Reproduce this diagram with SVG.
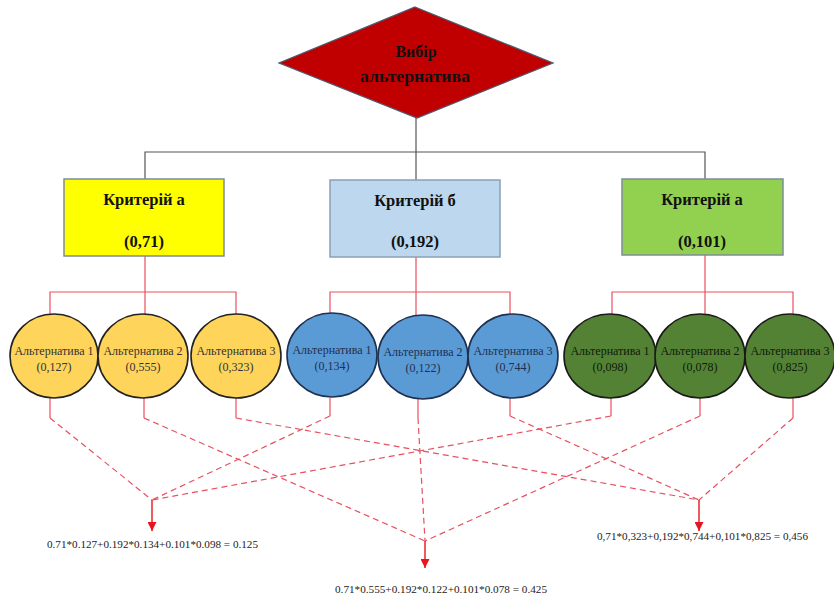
<svg xmlns="http://www.w3.org/2000/svg" width="834" height="595" viewBox="0 0 834 595">
<defs>
<marker id="arr" viewBox="0 0 10 10" refX="10" refY="5" markerWidth="9" markerHeight="9" markerUnits="userSpaceOnUse" orient="auto">
<path d="M0,0 L10,5 L0,10 z" fill="#e8141e"/>
</marker>
</defs>
<style>
.blk{fill:none;stroke:#555;stroke-width:1.2}
.red{fill:none;stroke:#e8505f;stroke-width:1.2}
.dash{fill:none;stroke:#e8505f;stroke-width:1.2;stroke-dasharray:6 4}
.arrow{fill:none;stroke:#e8141e;stroke-width:1.4}
.bt{font-family:"Liberation Serif",serif;font-weight:bold;font-size:16.5px;fill:#111;text-anchor:middle}
.dt{font-family:"Liberation Serif",serif;font-weight:bold;font-size:16px;fill:#111;text-anchor:middle}
.ct{font-family:"Liberation Serif",serif;font-size:12px;text-anchor:middle}
.ft{font-family:"Liberation Serif",serif;font-size:11px;fill:#222}
.yc{fill:#ffd45a;stroke:#222;stroke-width:1.6}
.bc{fill:#5b9bd5;stroke:#1f3050;stroke-width:1.6}
.gc{fill:#548235;stroke:#1a1a1a;stroke-width:1.6}
</style>
<rect width="834" height="595" fill="#fff"/>
<g id="connectors">
<polyline class="blk" points="416,118 416,152"/>
<polyline class="blk" points="145,179 145,152 705,152 705,179"/>
<polyline class="blk" points="416,152 416,180"/>
<polyline class="red" points="145,256 145,292"/>
<polyline class="red" points="50,315 50,292 236,292 236,315"/>
<polyline class="red" points="145,292 145,315"/>
<polyline class="red" points="416,257 416,292"/>
<polyline class="red" points="330,315 330,292 510,292 510,315"/>
<polyline class="red" points="416,292 416,315"/>
<polyline class="red" points="705,255 705,292"/>
<polyline class="red" points="612,315 612,292 793,292 793,315"/>
<polyline class="red" points="705,292 705,315"/>
<polyline class="red" points="50,398 50,418"/>
<polyline class="red" points="144,398 144,418"/>
<polyline class="red" points="236,398 236,418"/>
<polyline class="red" points="330,398 330,416"/>
<polyline class="red" points="418,399 418,418"/>
<polyline class="red" points="510,398 510,416"/>
<polyline class="red" points="611,398 611,416"/>
<polyline class="red" points="700,398 700,416"/>
<polyline class="red" points="793,398 793,418"/>
<line class="dash" x1="50" y1="418" x2="152" y2="500"/>
<line class="dash" x1="330" y1="416" x2="152" y2="500"/>
<line class="dash" x1="611" y1="416" x2="152" y2="500"/>
<line class="dash" x1="144" y1="418" x2="425" y2="541"/>
<line class="dash" x1="418" y1="418" x2="425" y2="541"/>
<line class="dash" x1="700" y1="416" x2="425" y2="541"/>
<line class="dash" x1="236" y1="418" x2="699" y2="500"/>
<line class="dash" x1="510" y1="416" x2="699" y2="500"/>
<line class="dash" x1="793" y1="418" x2="699" y2="500"/>
<line class="arrow" x1="152" y1="500" x2="152" y2="531" marker-end="url(#arr)"/>
<line class="arrow" x1="425" y1="541" x2="425" y2="568" marker-end="url(#arr)"/>
<line class="arrow" x1="699" y1="500" x2="699" y2="531" marker-end="url(#arr)"/>
</g>
<g id="goal">
<polygon points="415,7 553,63 417,118 279,63" fill="#c00000" stroke="#4a5a70" stroke-width="1.2"/>
<text class="dt" x="416" y="57">Вибір</text>
<text class="dt" x="415" y="82" textLength="110" lengthAdjust="spacingAndGlyphs">альтернатива</text>
</g>
<g id="crit-a1">
<rect x="64" y="179" width="160" height="77" fill="#ffff00" stroke="#7f8c9a" stroke-width="1.5"/>
<text class="bt" x="144" y="205">Критерій а</text>
<text class="bt" x="144" y="247">(0,71)</text>
</g>
<g id="crit-b">
<rect x="330" y="180" width="170" height="77" fill="#bdd7ee" stroke="#8aa0b8" stroke-width="1.5"/>
<text class="bt" x="415" y="206">Критерій б</text>
<text class="bt" x="415" y="247">(0,192)</text>
</g>
<g id="crit-a2">
<rect x="622" y="179" width="161" height="76" fill="#92d050" stroke="#7f8c9a" stroke-width="1.5"/>
<text class="bt" x="702" y="205">Критерій а</text>
<text class="bt" x="702" y="247">(0,101)</text>
</g>
<g id="y1"><ellipse class="yc" cx="54" cy="356" rx="44" ry="42"/><text class="ct" x="54" y="355" fill="#333">Альтернатива 1</text><text class="ct" x="54" y="371" fill="#333">(0,127)</text></g>
<g id="y2"><ellipse class="yc" cx="143" cy="356" rx="45" ry="42"/><text class="ct" x="143" y="355" fill="#333">Альтернатива 2</text><text class="ct" x="143" y="371" fill="#333">(0,555)</text></g>
<g id="y3"><ellipse class="yc" cx="236" cy="356" rx="45" ry="42"/><text class="ct" x="236" y="355" fill="#333">Альтернатива 3</text><text class="ct" x="236" y="371" fill="#333">(0,323)</text></g>
<g id="b1"><ellipse class="bc" cx="332" cy="355" rx="45" ry="42"/><text class="ct" x="332" y="354" fill="#1f3050">Альтернатива 1</text><text class="ct" x="332" y="370" fill="#1f3050">(0,134)</text></g>
<g id="b2"><ellipse class="bc" cx="423" cy="357" rx="45" ry="42"/><text class="ct" x="423" y="356" fill="#1f3050">Альтернатива 2</text><text class="ct" x="423" y="372" fill="#1f3050">(0,122)</text></g>
<g id="b3"><ellipse class="bc" cx="513" cy="356" rx="45" ry="42"/><text class="ct" x="513" y="355" fill="#1f3050">Альтернатива 3</text><text class="ct" x="513" y="371" fill="#1f3050">(0,744)</text></g>
<g id="g1"><ellipse class="gc" cx="610" cy="356" rx="46" ry="42"/><text class="ct" x="610" y="355" fill="#0f1a08">Альтернатива 1</text><text class="ct" x="610" y="371" fill="#0f1a08">(0,098)</text></g>
<g id="g2"><ellipse class="gc" cx="700" cy="356" rx="45" ry="42"/><text class="ct" x="700" y="355" fill="#0f1a08">Альтернатива 2</text><text class="ct" x="700" y="371" fill="#0f1a08">(0,078)</text></g>
<g id="g3"><ellipse class="gc" cx="790" cy="356" rx="45" ry="42"/><text class="ct" x="790" y="355" fill="#0f1a08">Альтернатива 3</text><text class="ct" x="790" y="371" fill="#0f1a08">(0,825)</text></g>
<g id="formulas">
<text class="ft" x="47" y="548" textLength="211" lengthAdjust="spacingAndGlyphs">0.71*0.127+0.192*0.134+0.101*0.098 = 0.125</text>
<text class="ft" x="335" y="593" textLength="212" lengthAdjust="spacingAndGlyphs">0.71*0.555+0.192*0.122+0.101*0.078 = 0.425</text>
<text class="ft" x="597" y="540" textLength="211" lengthAdjust="spacingAndGlyphs">0,71*0,323+0,192*0,744+0,101*0,825 = 0,456</text>
</g>
</svg>
